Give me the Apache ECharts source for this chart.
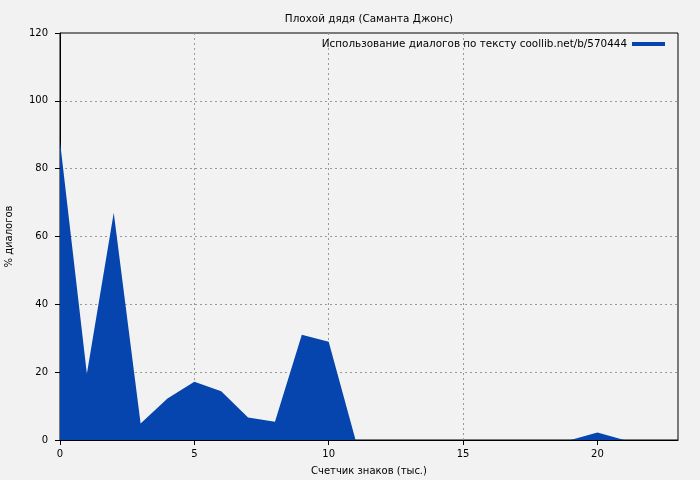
<!DOCTYPE html>
<html><head><meta charset="utf-8">
<script src="https://cdn.jsdelivr.net/npm/echarts@6/dist/echarts.min.js"></script>
<style>html,body{margin:0;padding:0;background:#f2f2f2}#c{width:700px;height:480px}</style>
</head><body><div id="c"></div>
<script>
const xValues = [0,1,2,3,4,5,6,7,8,9,10,11,12,13,14,15,16,17,18,19,20,21,22];
const dialogPct = [88,19.5,67,4.9,12.2,17.2,14.4,6.6,5.4,31,29,0,0,0,0,0,0,0,0,0,2.2,0,0];
const xTicks = [0,5,10,15,20];
const titleText = 'Плохой дядя (Саманта Джонс)';
const seriesName = 'Использование диалогов по тексту coollib.net/b/570444';
const xName = 'Счетчик знаков (тыс.)';
const yName = '% диалогов';

const font = 'DejaVu Sans';
const chart = echarts.init(document.getElementById('c'), null, {renderer:'canvas'});
chart.setOption({
  backgroundColor:'#f2f2f2',
  animation:false,
  title:{text:titleText,left:364,textAlign:'center',top:9,textStyle:{fontFamily:font,fontSize:10.4,fontWeight:'normal',color:'#000'}},
  legend:{right:30,top:34,icon:'rect',itemWidth:33,itemHeight:4,align:'right',itemGap:5,
    textStyle:{fontFamily:font,fontSize:10.4,color:'#000'},data:[seriesName]},
  grid:{left:60,right:22,top:33,bottom:40,outerBoundsMode:'none',containLabel:false,show:true,borderColor:'#000',borderWidth:1,backgroundColor:'transparent'},
  xAxis:{type:'value',min:0,max:23,name:xName,nameLocation:'middle',nameGap:26,
    nameTextStyle:{fontFamily:font,fontSize:10,color:'#000'},
    axisLine:{lineStyle:{color:'#000'}},
    axisTick:{customValues:xTicks,length:5,lineStyle:{color:'#000'}},
    axisLabel:{customValues:xTicks,fontFamily:font,fontSize:10,color:'#000',margin:9},
    splitLine:{show:true,showMinLine:false,showMaxLine:false,lineStyle:{color:'#999',type:[2,3],width:1}}},
  yAxis:{type:'value',min:0,max:120,interval:20,name:yName,nameLocation:'middle',nameGap:46,nameRotate:90,
    nameTextStyle:{fontFamily:font,fontSize:10,color:'#000'},
    axisLine:{show:true,lineStyle:{color:'#000'}},
    axisTick:{show:true,length:5,lineStyle:{color:'#000'}},
    axisLabel:{fontFamily:font,fontSize:10,color:'#000',margin:12},
    splitLine:{show:true,showMinLine:false,showMaxLine:false,lineStyle:{color:'#999',type:[2,3],width:1}}},
  series:[{name:seriesName,type:'line',data:xValues.map((x,i)=>[x,dialogPct[i]]),
    showSymbol:false,color:'#0645ad',lineStyle:{width:0},areaStyle:{color:'#0645ad',opacity:1}}]
});
</script></body></html>
